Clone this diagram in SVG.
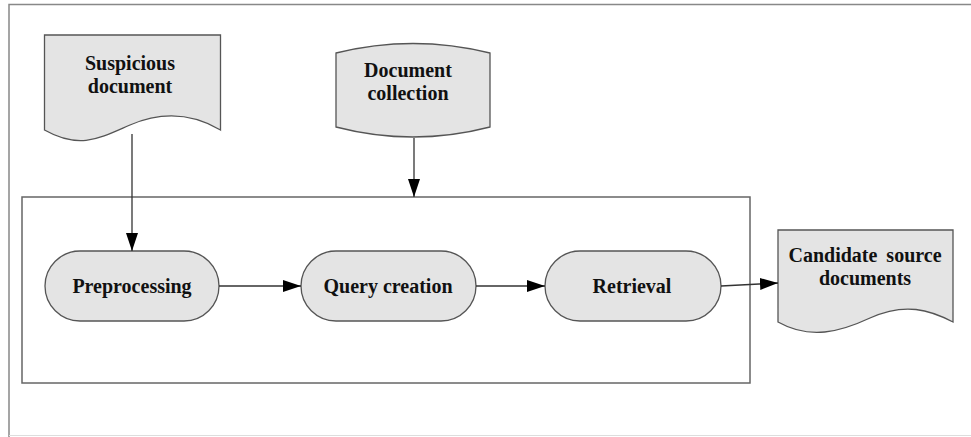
<svg xmlns="http://www.w3.org/2000/svg" width="971" height="437" viewBox="0 0 971 437">
<defs>
<marker id="ah" markerWidth="18" markerHeight="12" refX="18" refY="6" orient="auto" markerUnits="userSpaceOnUse">
<path d="M0,0 L18,6 L0,12 Z" fill="#000"/>
</marker>
<style>
.shape{fill:#e4e4e4;stroke:#555;stroke-width:1.3}
.lbl{font-family:"Liberation Serif","Times New Roman",serif;font-weight:bold;font-size:20px;fill:#111;text-anchor:middle}
.conn{stroke:#333;stroke-width:1.3;fill:none}
</style>
</defs>
<rect width="971" height="437" fill="#fff"/>
<g id="frame" fill="none">
<path d="M9,437 L9,4.5 L971,4.5" stroke="#888" stroke-width="1.5"/>
<line x1="9" y1="435.5" x2="971" y2="435.5" stroke="#ddd" stroke-width="1"/>
</g>
<g id="container">
<rect x="22" y="197" width="728" height="186" fill="none" stroke="#666" stroke-width="1.5"/>
</g>
<g id="suspicious-document">
<path class="shape" d="M44.5,35 L220.5,35 L220.5,130 C195,115 165,110 130,125 C100,138 80,150 44.5,130 Z"/>
<text class="lbl" x="130" y="70">Suspicious</text>
<text class="lbl" x="130" y="93">document</text>
</g>
<g id="document-collection">
<path class="shape" d="M336,53 Q413,34 490,53 L490,127 Q413,147 336,127 Z"/>
<text class="lbl" x="408" y="77">Document</text>
<text class="lbl" x="408" y="100">collection</text>
</g>
<g id="preprocessing">
<rect class="shape" x="45" y="251" width="174" height="70" rx="35" ry="35"/>
<text class="lbl" x="132" y="293">Preprocessing</text>
</g>
<g id="query-creation">
<rect class="shape" x="301" y="251" width="175" height="70" rx="35" ry="35"/>
<text class="lbl" x="388" y="293">Query creation</text>
</g>
<g id="retrieval">
<rect class="shape" x="545" y="251" width="176" height="70" rx="35" ry="35"/>
<text class="lbl" x="632" y="293">Retrieval</text>
</g>
<g id="candidate-source-documents">
<path class="shape" d="M778,230 L953,230 L953,322 C930,310 905,302 870,318 C840,332 810,340 778,322 Z"/>
<text class="lbl" x="865" y="262" word-spacing="4">Candidate source</text>
<text class="lbl" x="865" y="285">documents</text>
</g>
<g id="connectors">
<line class="conn" x1="132" y1="134" x2="132" y2="251" marker-end="url(#ah)"/>
<line class="conn" x1="414" y1="138" x2="414" y2="197" marker-end="url(#ah)"/>
<line class="conn" x1="219" y1="286" x2="301" y2="286" marker-end="url(#ah)"/>
<line class="conn" x1="476" y1="286" x2="545" y2="286" marker-end="url(#ah)"/>
<line class="conn" x1="721" y1="286" x2="778" y2="283" marker-end="url(#ah)"/>
</g>
</svg>
